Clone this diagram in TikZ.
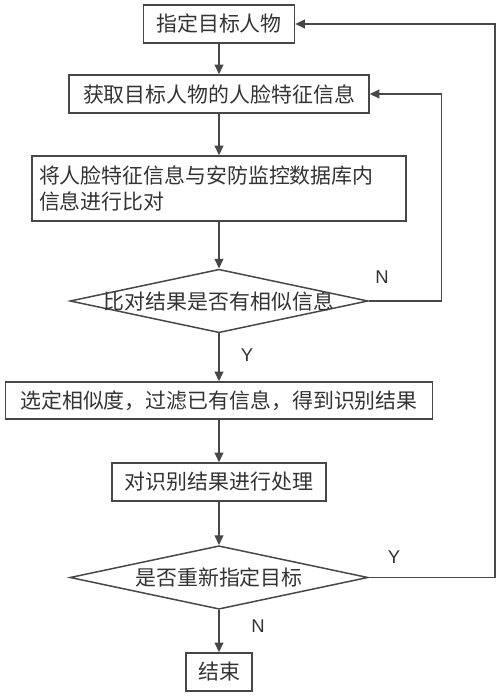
\documentclass[tikz,border=0pt]{standalone}
\usepackage{fontspec}
\usepackage{tikz}
\usetikzlibrary{shapes.geometric,arrows.meta}
\setmainfont{Noto Sans CJK SC}
\newfontfamily\latinfont{Liberation Sans}
\colorlet{linegray}{black!72}
\colorlet{textgray}{black!80}

\begin{document}
\begin{tikzpicture}[
    every node/.style={text=textgray,font=\fontsize{11.9}{14.7}\selectfont},
    process/.style={draw=linegray,line width=0.85pt,rectangle,inner sep=0pt,minimum height=0.76cm},
    decision/.style={draw=linegray,line width=0.85pt,diamond,inner sep=0pt,minimum width=5.96cm,minimum height=1.27cm},
    yn/.style={font=\latinfont\fontsize{10.5}{12}\selectfont},
    flow/.style={draw=linegray,line width=0.85pt,-{Triangle[length=5.5pt,width=5pt]}}]
         \useasboundingbox (0, 0) rectangle (10, 13.94);
         \node[process,minimum width=3.02cm] (Target) at (4.38, 13.46) {指定目标人物};
         \node[process,minimum width=6cm] (Feature) at (4.38, 12.06) {获取目标人物的人脸特征信息};
         \node[process,minimum height=1.3cm,text width=7.2cm,inner xsep=0.14cm,align=left] (Compare) at (4.38, 10.17) {将人脸特征信息与安防监控数据库内\\信息进行比对};
         \node[decision] (Similar) at (4.38, 7.92) {\makebox[0pt]{比对结果是否有相似信息}};
         \node[process,minimum width=8.54cm,minimum height=0.74cm] (Filter) at (4.38, 5.93) {选定相似度，过滤已有信息，得到识别结果};
         \node[process,minimum width=4.28cm] (Handle) at (4.38, 4.30) {对识别结果进行处理};
         \node[decision] (Again) at (4.38, 2.39) {\makebox[0pt]{是否重新指定目标}};
         \node[process,minimum width=1.32cm] (End) at (4.38, 0.50) {结束};
         \draw[flow] (Target) to (Feature);
         \draw[flow] (Feature) to (Compare);
         \draw[flow] (Compare) to (Similar);
         \draw[flow] (Similar) to (Filter);
         \draw[flow] (Filter) to (Handle);
         \draw[flow] (Handle) to (Again);
         \draw[flow] (Again) to (End);
         \draw[flow] (Similar.east) -- ++(1.46, 0) |- (Feature.east);
         \draw[flow] (Again.east) -- ++(2.52, 0) |- (Target.east);
         \node[yn] (SimN) at (7.64, 8.40) {N};
         \node[yn] (SimY) at (4.94, 6.84) {Y};
         \node[yn] (AgainY) at (7.88, 2.80) {Y};
         \node[yn] (AgainN) at (5.16, 1.42) {N};
      \end{tikzpicture}
\end{document}
